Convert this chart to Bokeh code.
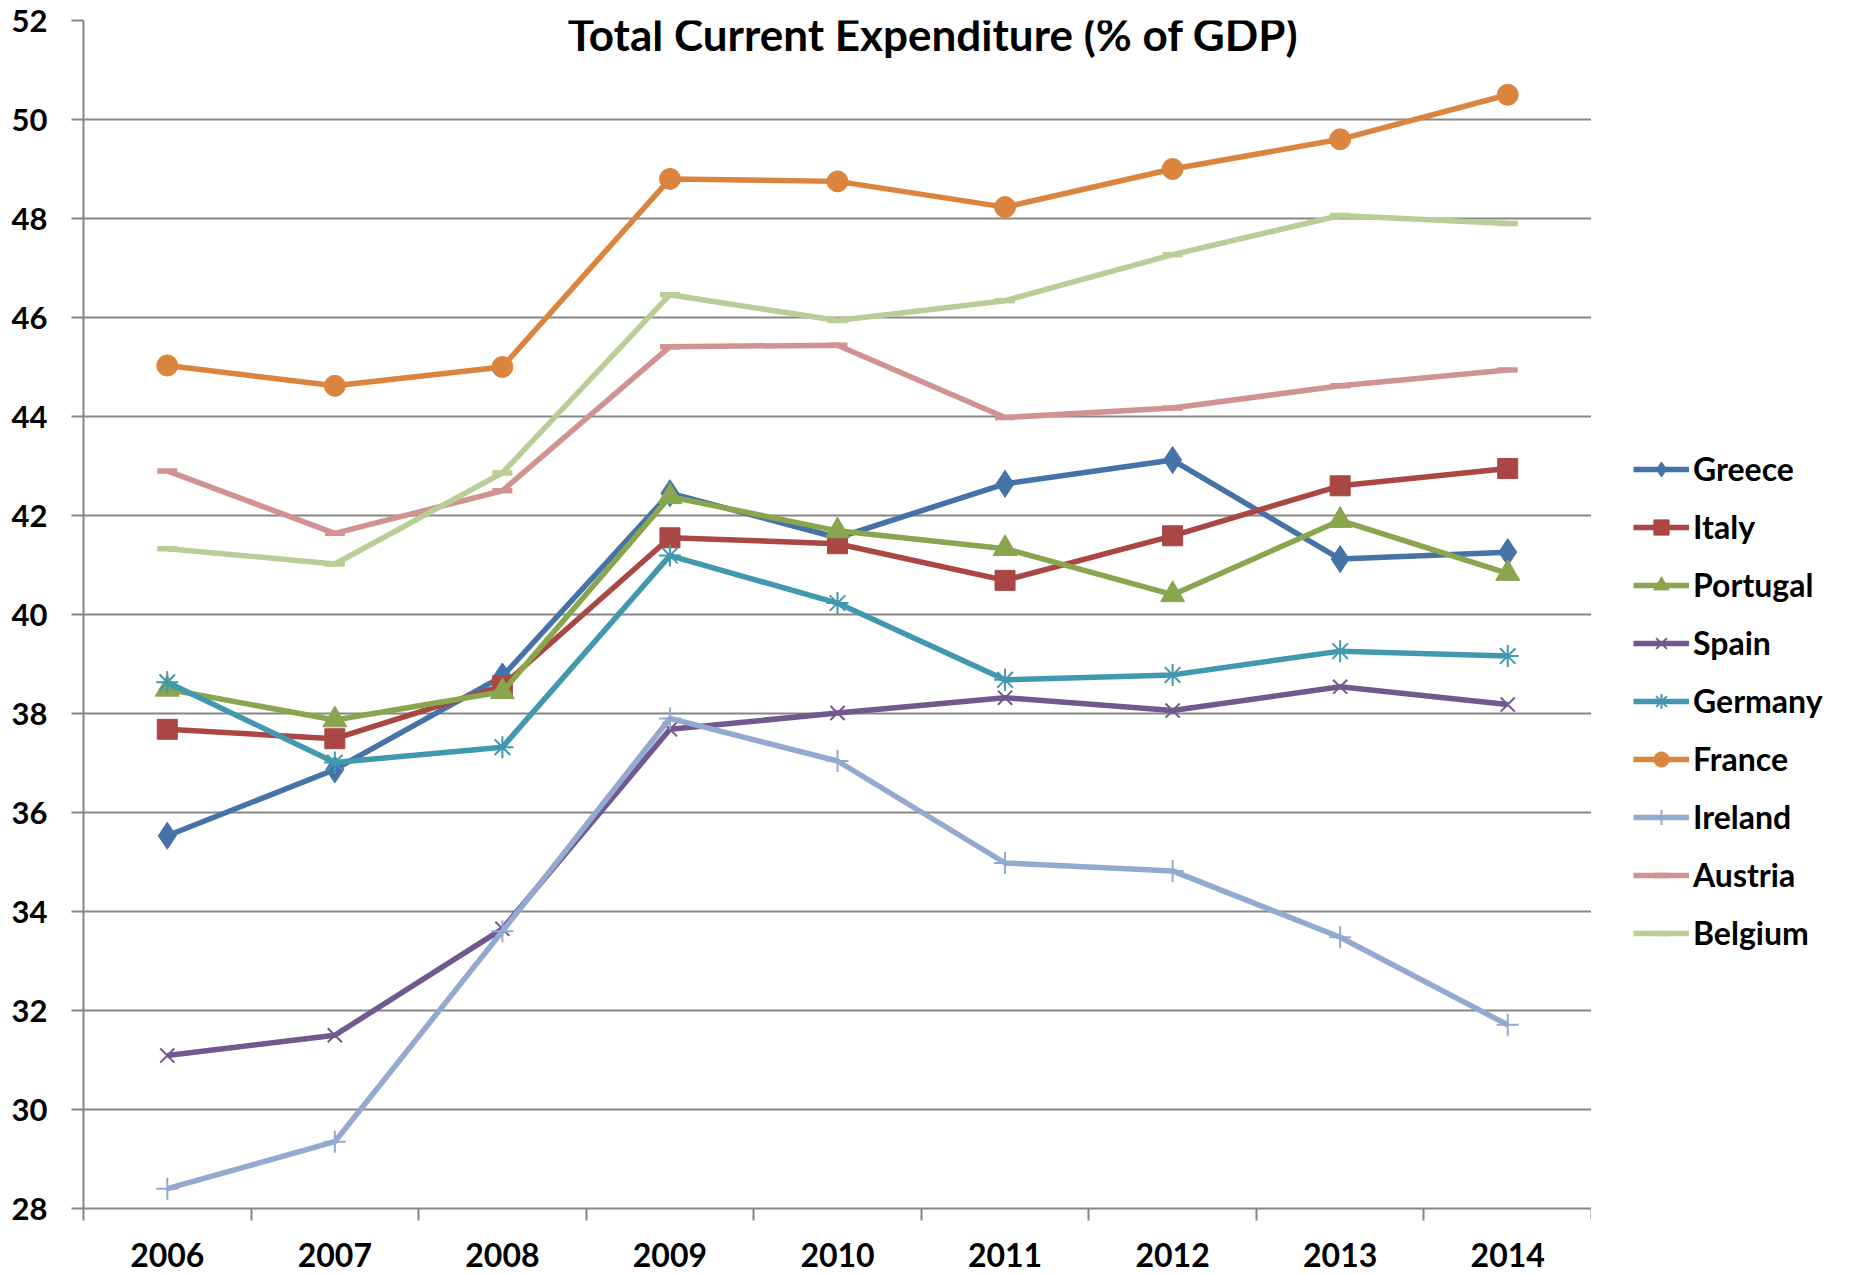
from bokeh.plotting import figure
from bokeh.layouts import row
from bokeh.models import Range1d, FixedTicker, Legend, LegendItem, Label
from bokeh.embed import file_html
from bokeh.resources import INLINE

years = [2006, 2007, 2008, 2009, 2010, 2011, 2012, 2013, 2014]
y_ticks = [28, 30, 32, 34, 36, 38, 40, 42, 44, 46, 48, 50, 52]

greece = [35.53, 36.87, 38.75, 42.45, 41.55, 42.64, 43.12, 41.12, 41.26]
italy = [37.68, 37.49, 38.56, 41.55, 41.43, 40.69, 41.59, 42.60, 42.95]
portugal = [38.49, 37.87, 38.44, 42.38, 41.69, 41.33, 40.40, 41.90, 40.83]
spain = [31.09, 31.50, 33.65, 37.68, 38.01, 38.32, 38.06, 38.54, 38.18]
germany = [38.63, 37.01, 37.32, 41.19, 40.23, 38.68, 38.78, 39.26, 39.16]
france = [45.03, 44.62, 45.00, 48.80, 48.75, 48.23, 49.00, 49.60, 50.50]
ireland = [28.40, 29.35, 33.60, 37.90, 37.04, 34.98, 34.82, 33.48, 31.71]
austria = [42.90, 41.64, 42.50, 45.41, 45.44, 43.98, 44.17, 44.62, 44.94]
belgium = [41.33, 41.02, 42.86, 46.46, 45.94, 46.34, 47.27, 48.06, 47.90]

series = [
    ("Greece", greece, "#4572A7", "diamond", 27),
    ("Italy", italy, "#AA4643", "square", 20),
    ("Portugal", portugal, "#89A54E", "triangle", 24),
    ("Spain", spain, "#71588F", "x", 20),
    ("Germany", germany, "#4198AF", "asterisk", 22),
    ("France", france, "#DB843D", "circle", 21),
    ("Ireland", ireland, "#93A9CF", "cross", 22),
    ("Austria", austria, "#D19392", "dash", 20),
    ("Belgium", belgium, "#B9CD96", "dash", 20),
]
thin_markers = {"x", "asterisk", "cross"}

GRID = "#868686"
FONT = "Lato"
PLOT_W = 1591
LEG_W = 1854 - PLOT_W
H = 1274

p = figure(width=PLOT_W, height=H, output_backend="svg", toolbar_location=None,
           x_range=Range1d(years[0] - 0.5, years[-1] + 0.5),
           y_range=Range1d(y_ticks[0], y_ticks[-1]),
           min_border_left=83, min_border_right=0, min_border_top=20,
           min_border_bottom=66)
p.outline_line_color = None
p.background_fill_color = "white"
p.border_fill_color = "white"

# x axis: labels at year centers, boundary ticks as minor ticks
bounds = [y - 0.5 for y in years] + [years[-1] + 0.5]
p.xaxis.ticker = FixedTicker(ticks=years, minor_ticks=bounds)
p.xaxis.major_tick_out = 0
p.xaxis.major_tick_in = 0
p.xaxis.minor_tick_out = 12
p.xaxis.minor_tick_in = 0
p.xaxis.minor_tick_line_color = GRID
p.xaxis.minor_tick_line_width = 2
p.xaxis.axis_line_color = GRID
p.xaxis.axis_line_width = 2
p.xaxis.major_label_standoff = 22
p.xaxis.major_label_text_font = FONT
p.xaxis.major_label_text_font_style = "bold"
p.xaxis.major_label_text_font_size = "32px"
p.xaxis.major_label_text_color = "black"

p.yaxis.ticker = FixedTicker(ticks=y_ticks)
p.yaxis.major_tick_out = 12
p.yaxis.major_tick_in = 0
p.yaxis.major_tick_line_color = GRID
p.yaxis.major_tick_line_width = 2
p.yaxis.minor_tick_line_color = None
p.yaxis.axis_line_color = GRID
p.yaxis.axis_line_width = 2
p.yaxis.major_label_standoff = 24
p.yaxis.major_label_text_font = FONT
p.yaxis.major_label_text_font_style = "bold"
p.yaxis.major_label_text_font_size = "31px"
p.yaxis.major_label_text_color = "black"

p.xgrid.visible = False
p.ygrid.ticker = FixedTicker(ticks=y_ticks)
p.ygrid.grid_line_color = GRID
p.ygrid.grid_line_width = 2


def add_series(fig, xs, ys, color, marker, size):
    ln = fig.line(xs, ys, line_color=color, line_width=5.5, line_join="round")
    if marker in thin_markers:
        sc = fig.scatter(xs, ys, marker=marker, size=size, line_color=color,
                         line_width=2, fill_color=None)
    elif marker == "dash":
        sc = fig.scatter(xs, ys, marker=marker, size=size, line_color=color,
                         line_width=5.5)
    else:
        sc = fig.scatter(xs, ys, marker=marker, size=size, line_color=color,
                         fill_color=color, line_width=1)
    return ln, sc


for name, vals, color, marker, size in series:
    add_series(p, years, vals, color, marker, size)

title = Label(x=2010.57, y=51.73, text="Total Current Expenditure (% of GDP)",
              text_align="center", text_baseline="alphabetic",
              text_font=FONT, text_font_style="bold", text_font_size="44px",
              text_color="black")
p.add_layout(title)

# legend panel to the right of the plot area (series drawn off-range there,
# only their legend glyphs show)
lp = figure(width=LEG_W, height=H, output_backend="svg", toolbar_location=None,
            x_range=Range1d(0, 1), y_range=Range1d(0, 1),
            x_axis_type=None, y_axis_type=None,
            min_border_left=0, min_border_right=0, min_border_top=0,
            min_border_bottom=0)
lp.outline_line_color = None
lp.grid.visible = False
lp.background_fill_color = "white"
lp.border_fill_color = "white"

items = []
for name, vals, color, marker, size in series:
    ln, sc = add_series(lp, years, vals, color, marker, size)
    items.append(LegendItem(label=name, renderers=[ln, sc]))

legend = Legend(items=items, location=(42, 256), padding=0, margin=0,
                spacing=19, glyph_width=56, glyph_height=38, label_height=38,
                label_standoff=4,
                label_text_font=FONT, label_text_font_style="bold",
                label_text_font_size="32px", label_text_color="black",
                background_fill_alpha=0, border_line_color=None)
lp.add_layout(legend)

layout = row(p, lp, spacing=0)
open("out.html", "w").write(file_html(layout, INLINE))
